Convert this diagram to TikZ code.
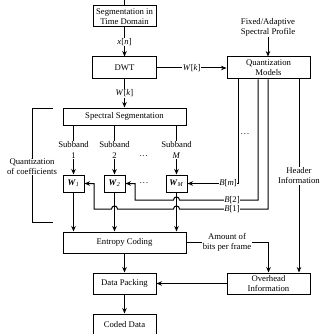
\documentclass[tikz,border=0pt]{standalone}
\usepackage{fontspec}
\setmainfont{Liberation Serif}
\usetikzlibrary{arrows.meta}
\newcommand{\threedots}{\scalebox{0.5}{\textbullet\hspace{3pt}\textbullet\hspace{3pt}\textbullet}}
\begin{document}
\begin{tikzpicture}[x=1pt,y=-1pt,
  every node/.style={font=\fontsize{8.7}{10}\selectfont, align=center, inner sep=1pt},
  box/.style={draw, line width=1pt, fill=white, minimum width=#1, minimum height=21pt},
  wbox/.style={draw, line width=1pt, fill=white, minimum width=21pt, minimum height=17pt},
  lbl/.style={fill=white, inner sep=0.5pt},
  sblbl/.style={lbl, font=\fontsize{8.7}{11.5}\selectfont},
  wire/.style={line width=1pt},
  arr/.style={wire, -{Stealth[length=5.5pt,width=4.5pt]}}
]
\clip (0,0) rectangle (321,334);

% main blocks
\node[box=63pt] (seg) at (124.5,16.5) {Segmentation in\\Time Domain};
\node[box=64pt, minimum height=22pt] (dwt) at (124.5,68) {DWT};
\node[box=83pt, minimum height=22pt] (qm) at (268.5,68) {Quantization\\Models};
\node (fap) at (268,27) {Fixed/Adaptive\\Spectral Profile};
\node[box=123pt, minimum height=17pt] (ss) at (124.5,116.5) {Spectral Segmentation};
\node[wbox] (w1) at (73.5,183.5) {\textbf{\textit{W}}\textsubscript{\textit{1}}};
\node[wbox] (w2) at (114.5,183.5) {\textbf{\textit{W}}\textsubscript{\textit{2}}};
\node[wbox] (wM) at (176.5,183.5) {\textbf{\textit{W}}\textsubscript{\textit{M}}};
\node[box=123pt] (ec) at (124.5,242.5) {Entropy Coding};
\node[box=63pt] (dp) at (124.5,283.5) {Data Packing};
\node[box=83pt] (oh) at (268.5,283.5) {Overhead\\Information};
\node[box=63pt, minimum height=22pt] (cd) at (124.5,325) {Coded Data};

% input and transform chain
\coordinate (top) at (124.5,0);
\draw[wire] (top) -- (seg.north);
\draw[arr] (seg) -- node[lbl] (xn) {\textit{x}[\textit{n}]} (dwt);
\draw[arr] (dwt) -- node[lbl] (wk1) {\textit{W}[\textit{k}]} (qm);
\draw[arr] (fap.south) -- (fap.south |- qm.north);
\draw[arr] (dwt) -- node[lbl] (wk2) {\textit{W}[\textit{k}]} (ss);

% subbands
\draw[arr] (ss.south -| w1) -- node[sblbl] (sb1) {Subband\\1} (w1);
\draw[arr] (ss.south -| w2) -- node[sblbl] (sb2) {Subband\\2} (w2);
\draw[arr] (ss.south -| wM) -- node[sblbl] (sbM) {Subband\\\textit{M}} (wM);
\node (d1) at (143.5,157) {\threedots};
\node (d2) at (144,183.5) {\threedots};
\node (d3) at (245,135) {\threedots};

% quantized subbands to entropy coder
\draw[arr] (w1) -- (w1 |- ec.north);
\draw[arr] (w2) -- (w2 |- ec.north);
\draw[arr] (wM) -- (wM |- ec.north);

% bit allocations from the quantization models
\draw[arr] (238,0 |- qm.south) |- (wM.east);
\node[lbl] (bm) at (228,183.5) {\textit{B}[\textit{m}]};
\draw[arr] (258,0 |- qm.south) -- (258,200) -- (179.5,200)
  .. controls (179.5,196) and (173.5,196) .. (173.5,200)
  -- (135,200) -- (135,183.5) -- (w2.east);
\node[lbl] (b2) at (232,200) {\textit{B}[2]};
\draw[arr] (268,0 |- qm.south) -- (268,209) -- (179.5,209)
  .. controls (179.5,205) and (173.5,205) .. (173.5,209)
  -- (117.5,209)
  .. controls (117.5,205) and (111.5,205) .. (111.5,209)
  -- (94,209) -- (94,183.5) -- (w1.east);
\node[lbl] (b1) at (232,209) {\textit{B}[1]};

% header information
\draw[arr] (299,0 |- qm.south) -- (299,0 |- oh.north);
\node[lbl] (hi) at (299,176) {Header\\Information};

% bracket
\draw[wire] (53,108) -- (32,108) -- (32,222) -- (53,222);
\node[lbl] (qc) at (32,167) {Quantization\\of coefficients};

% output chain
\draw[arr] (ec.east) -| (oh.north);
\node[lbl] (ab) at (227,242.5) {Amount of\\bits per frame};
\draw[arr] (ec) -- (dp);
\draw[arr] (oh) -- (dp);
\draw[arr] (dp) -- (cd);
\end{tikzpicture}
\end{document}
